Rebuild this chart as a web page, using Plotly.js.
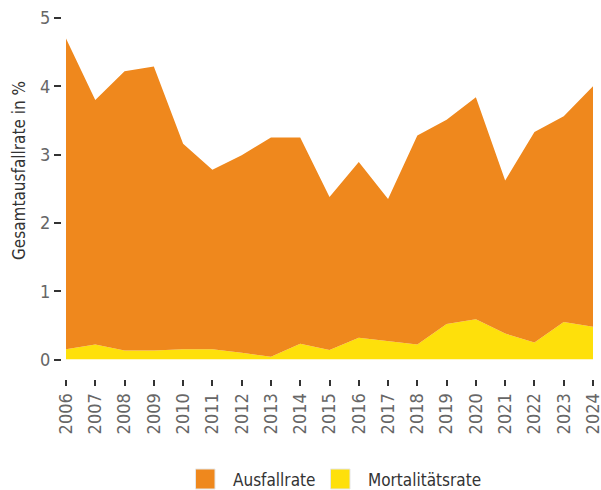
<!DOCTYPE html>
<html>
<head>
<meta charset="utf-8">
<script src="https://cdn.plot.ly/plotly-3.0.1.min.js"></script>
<style>
html,body{margin:0;padding:0;background:#fff;}
#chart{width:601px;height:490px;}
</style>
</head>
<body>
<div id="chart"></div>
<script>
const years = ['2006','2007','2008','2009','2010','2011','2012','2013','2014','2015','2016','2017','2018','2019','2020','2021','2022','2023','2024'];
const mortalitaetsrate = [0.15,0.22,0.13,0.13,0.15,0.15,0.10,0.04,0.23,0.14,0.32,0.27,0.22,0.52,0.59,0.38,0.25,0.55,0.48];
const ausfallrate = [4.55,3.58,4.09,4.16,3.01,2.63,2.89,3.21,3.02,2.24,2.57,2.08,3.06,2.99,3.25,2.24,3.08,3.01,3.52];
const yTicks = [0,1,2,3,4,5];
const seriesNames = ['Ausfallrate','Mortalitätsrate'];
const colors = {aus:'#EF881D', mort:'#FEE00B'};

const W = 601, H = 490;
const px = v => v / W;
const py = v => (H - v) / H;
const FONT = '"Liberation Sans Narrow", "DejaVu Sans Condensed", "Liberation Sans", sans-serif';

const traces = [
  {x: years, y: mortalitaetsrate, name: seriesNames[1], type:'scatter', mode:'lines',
   stackgroup:'one', line:{width:0, color:colors.mort}, fillcolor:colors.mort, showlegend:false},
  {x: years, y: ausfallrate, name: seriesNames[0], type:'scatter', mode:'lines',
   stackgroup:'one', line:{width:0, color:colors.aus}, fillcolor:colors.aus, showlegend:false}
];

const layout = {
  width: W, height: H,
  margin: {l:0, r:0, t:0, b:0},
  paper_bgcolor:'#fff', plot_bgcolor:'#fff',
  font: {family: FONT, size: 18, color:'#333'},
  showlegend:false,
  xaxis: {
    type:'category', domain:[px(66), px(593)], range:[0, years.length-1],
    anchor:'free', position: py(379),
    showgrid:false, zeroline:false, showline:false,
    ticks:'outside', ticklen:6, tickwidth:2, tickcolor:'#333',
    tickangle:-90, tickfont:{family:FONT, size:18, color:'#666'},
    fixedrange:true
  },
  yaxis: {
    domain:[py(359.5), py(18)], range:[0,5],
    anchor:'free', position: px(61),
    tickvals: yTicks, ticktext: yTicks.map(String),
    showgrid:false, zeroline:false, showline:false,
    ticks:'outside', ticklen:7, tickwidth:2, tickcolor:'#333',
    tickfont:{family:FONT, size:18, color:'#666'},
    fixedrange:true
  },
  annotations: [
    {text:'Gesamtausfallrate in %', xref:'paper', yref:'paper', x:px(19), y:py(171),
     xanchor:'center', yanchor:'middle', textangle:-90, showarrow:false,
     font:{family:FONT, size:17, color:'#333'}},
    {text:seriesNames[0], xref:'paper', yref:'paper', x:px(231), y:py(480),
     xanchor:'left', yanchor:'middle', showarrow:false, font:{family:FONT, size:17, color:'#333'}},
    {text:seriesNames[1], xref:'paper', yref:'paper', x:px(366), y:py(480),
     xanchor:'left', yanchor:'middle', showarrow:false, font:{family:FONT, size:17, color:'#333'}}
  ],
  shapes: [
    {type:'rect', xref:'paper', yref:'paper', x0:px(195.5), x1:px(215), y0:py(489), y1:py(469),
     fillcolor:colors.aus, line:{color:'#e6e6e6', width:1}},
    {type:'rect', xref:'paper', yref:'paper', x0:px(330.5), x1:px(350), y0:py(489), y1:py(469),
     fillcolor:colors.mort, line:{color:'#e6e6e6', width:1}}
  ]
};

Plotly.newPlot('chart', traces, layout, {displayModeBar:false, staticPlot:true});
</script>
</body>
</html>
